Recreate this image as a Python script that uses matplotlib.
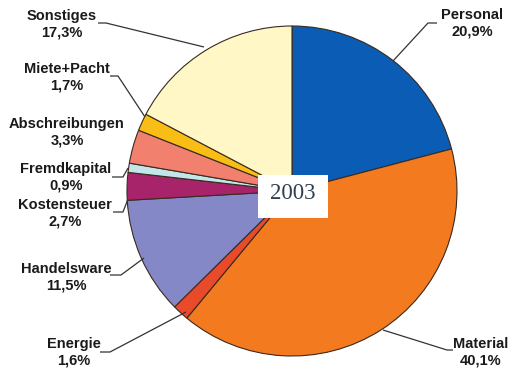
import matplotlib.pyplot as plt
from matplotlib.patches import Rectangle

# Kostenstruktur 2003 (Anteile in %)
labels = ['Personal', 'Material', 'Energie', 'Handelsware', 'Kostensteuer',
          'Fremdkapital', 'Abschreibungen', 'Miete+Pacht', 'Sonstiges']
shares = [20.9, 40.1, 1.6, 11.5, 2.7, 0.9, 3.3, 1.7, 17.3]
share_text = ['20,9%', '40,1%', '1,6%', '11,5%', '2,7%', '0,9%', '3,3%', '1,7%', '17,3%']
colors = ['#0b5cb4', '#f47a20', '#e84a2a', '#8588c6', '#a8246a',
          '#c2e6ea', '#f2806f', '#f9be16', '#fff8c6']
year = '2003'

W, H = 510, 371
fig = plt.figure(figsize=(W / 100, H / 100), dpi=100)
ax = fig.add_axes([0, 0, 1, 1])

# pie in pixel units, y counted from the bottom
cx, cy, r = 292, H - 191, 165
ax.pie(shares, colors=colors, startangle=90, counterclock=False,
       center=(cx, cy), radius=r,
       wedgeprops=dict(edgecolor='#3a2a20', linewidth=0.8))
ax.set_xlim(0, W)
ax.set_ylim(0, H)
ax.set_aspect('equal')
ax.axis('off')

# label text centres and leader lines (pixel coords from the top)
label_pos = {
    'Personal': (472, 23),
    'Material': (481, 352),
    'Energie': (74, 352),
    'Handelsware': (66, 277),
    'Kostensteuer': (65, 213),
    'Fremdkapital': (66, 177),
    'Abschreibungen': (67, 132),
    'Miete+Pacht': (67, 77),
    'Sonstiges': (62, 24),
}
leaders = {
    'Personal': [(437, 23), (428, 23), (393, 61)],
    'Material': [(453, 350), (447, 350), (383, 330)],
    'Energie': [(100, 352), (110, 352), (186, 312)],
    'Handelsware': [(110, 275), (121, 275), (144, 258)],
    'Kostensteuer': [(113, 212), (123, 212), (128, 199)],
    'Fremdkapital': [(112, 177), (123, 177), (128, 168)],
    'Miete+Pacht': [(110, 76), (118, 76), (145, 117)],
    'Sonstiges': [(98, 23), (106, 23), (204, 47)],
}

for name, pct in zip(labels, share_text):
    x, y = label_pos[name]
    ax.text(x, H - y, f'{name}\n{pct}', ha='center', va='center',
            fontsize=10.5, fontweight='bold', family='Liberation Sans',
            color='#1a1a1a', linespacing=1.25)
    if name in leaders:
        pts = leaders[name]
        ax.plot([p[0] for p in pts], [H - p[1] for p in pts],
                color='#333333', linewidth=0.9, solid_capstyle='butt')

# year box in the middle
ax.add_patch(Rectangle((cx - 34, H - 218), 70, 43, facecolor='white',
                       edgecolor='none', zorder=3))
ax.text(cx + 1, H - 194, year, ha='center', va='center', fontsize=16.5,
        family='Liberation Serif', color='#2f3f50', zorder=4)

fig.savefig('out.png', dpi=100)
